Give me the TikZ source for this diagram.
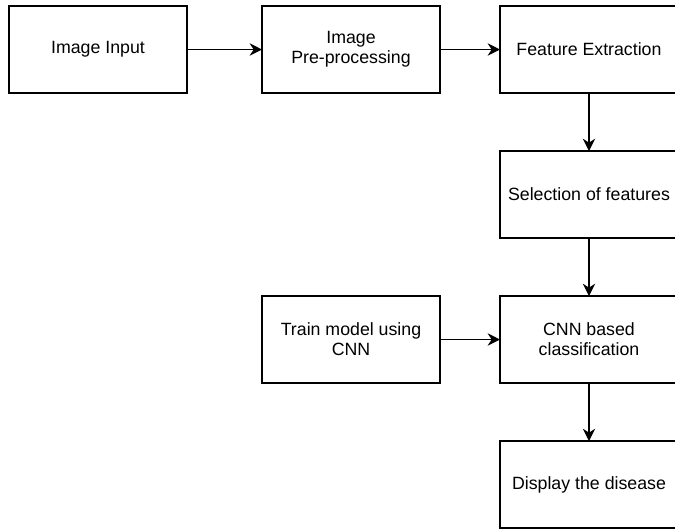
\documentclass[tikz,border=0pt]{standalone}
\usepackage{fontspec}
\setmainfont{Liberation Sans}
\usetikzlibrary{arrows.meta, positioning}
\tikzset{block/.style={draw, rectangle, minimum width=3.56cm, minimum height=1.74cm, align=center, inner sep=0pt, outer sep=0pt, font=\fontsize{10.1pt}{11.4pt}\selectfont}}

\begin{document}
\begin{tikzpicture}[>={Stealth[length=7pt, width=7pt]}, line width=0.9pt, node distance=1.16cm and 1.5cm]
\clip (0,0) rectangle (13.5,-10.58);
\node[block, anchor=north west] (input) at (0.18,-0.12) {Image Input};
\node[block, right=1.5cm of input] (preproc) {Image\\Pre-processing};
\node[block, right=1.2cm of preproc] (featext) {Feature Extraction};
\node[block, below=of featext] (featsel) {Selection of features};
\node[block, below=of featsel] (cnnclass) {CNN based\\classification};
\node[block, left=1.2cm of cnnclass] (train) {Train model using\\CNN};
\node[block, below=of cnnclass] (display) {Display the disease};
\draw[->] (input) -- (preproc);
\draw[->] (preproc) -- (featext);
\draw[->] (featext) -- (featsel);
\draw[->] (featsel) -- (cnnclass);
\draw[->] (train) -- (cnnclass);
\draw[->] (cnnclass) -- (display);
\end{tikzpicture}
\end{document}
